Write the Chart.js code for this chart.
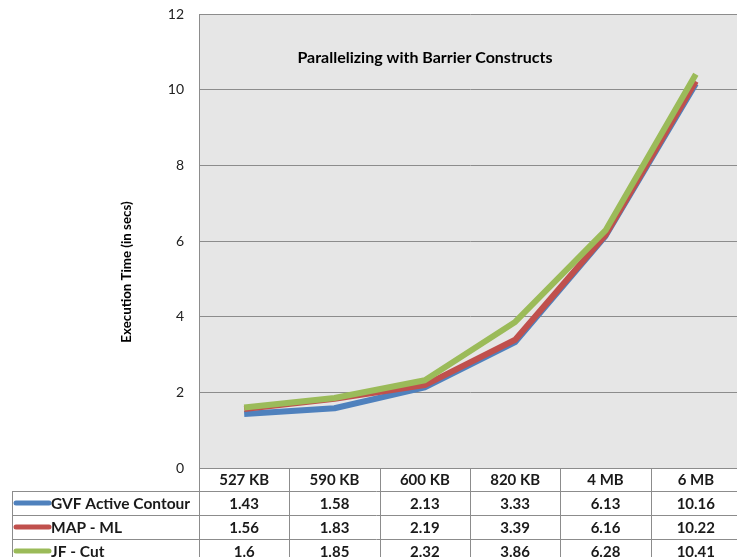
<!DOCTYPE html>
<html>
<head>
<meta charset="utf-8">
<script src="https://cdn.jsdelivr.net/npm/chart.js@4.4.1/dist/chart.umd.min.js"></script>
<style>
html,body{margin:0;padding:0;background:#fff;overflow:hidden;width:737px;height:557px;}
#wrap{position:absolute;left:0;top:0;width:741px;height:557px;}
</style>
</head>
<body>
<div id="wrap"><canvas id="c" width="741" height="557"></canvas></div>
<script>
const categories = ['527 KB', '590 KB', '600 KB', '820 KB', '4 MB', '6 MB'];
const gvfActiveContour = [1.43, 1.58, 2.13, 3.33, 6.13, 10.16];
const mapMl = [1.56, 1.83, 2.19, 3.39, 6.16, 10.22];
const jfCut = [1.6, 1.85, 2.32, 3.86, 6.28, 10.41];
const seriesNames = ['GVF Active Contour', 'MAP - ML', 'JF - Cut'];
const yTicks = [0, 2, 4, 6, 8, 10, 12];
const chartTitle = 'Parallelizing with Barrier Constructs';
const yTitle = 'Execution Time (in secs)';

const colors = ['#4f81bd', '#c0504d', '#9bbb59'];
const FONT = 'Lato, "Open Sans", sans-serif';

const tablePlugin = {
  id: 'tablePlugin',
  beforeDraw(chart) {
    const {ctx, chartArea: a} = chart;
    ctx.save();
    ctx.fillStyle = '#e6e6e6';
    ctx.fillRect(a.left, a.top, a.right - a.left, a.bottom - a.top);
    ctx.restore();
  },
  afterDraw(chart) {
    const {ctx, chartArea: a} = chart;
    const xs = chart.scales.x;
    const n = categories.length;
    const bw = (xs.right - xs.left) / n;
    const rowTop = a.bottom;
    const rowH = [23, 24, 24, 24];
    const ys = [rowTop];
    rowH.forEach(h => ys.push(ys[ys.length - 1] + h));
    const labelLeft = 12;
    ctx.save();
    // title
    ctx.fillStyle = '#000';
    ctx.font = 'bold 16px ' + FONT;
    ctx.textAlign = 'center';
    ctx.textBaseline = 'middle';
    ctx.fillText(chartTitle, 425, 58);
    // y title
    ctx.save();
    ctx.translate(127, 272);
    ctx.rotate(-Math.PI / 2);
    ctx.font = 'bold 13.3px ' + FONT;
    ctx.fillText(yTitle, 0, 0);
    ctx.restore();
    // table lines
    ctx.strokeStyle = '#8c8c8c';
    ctx.lineWidth = 1;
    ctx.beginPath();
    ctx.moveTo(xs.left, ys[0] + 0.5); ctx.lineTo(xs.right, ys[0] + 0.5);
    for (let r = 1; r < ys.length; r++) {
      ctx.moveTo(labelLeft, Math.round(ys[r]) + 0.5); ctx.lineTo(xs.right, Math.round(ys[r]) + 0.5);
    }
    ctx.moveTo(labelLeft + 0.5, ys[1]); ctx.lineTo(labelLeft + 0.5, 560);
    for (let i = 0; i <= n; i++) {
      const x = Math.round(xs.left + i * bw) + 0.5;
      ctx.moveTo(x, ys[0]); ctx.lineTo(x, 560);
    }
    ctx.stroke();
    // header
    ctx.fillStyle = '#1a1a1a';
    ctx.font = 'bold 15px ' + FONT;
    ctx.textAlign = 'center';
    categories.forEach((c, i) => {
      ctx.fillText(c, xs.left + (i + 0.5) * bw, (ys[0] + ys[1]) / 2 + 1);
    });
    const data = [gvfActiveContour, mapMl, jfCut];
    data.forEach((arr, r) => {
      const yc = (ys[r + 1] + ys[r + 2]) / 2 + 1;
      ctx.strokeStyle = colors[r];
      ctx.lineWidth = 5;
      ctx.lineCap = 'round';
      ctx.beginPath();
      ctx.moveTo(labelLeft + 4, yc - 1); ctx.lineTo(labelLeft + 37, yc - 1);
      ctx.stroke();
      ctx.fillStyle = '#1a1a1a';
      ctx.textAlign = 'left';
      ctx.font = 'bold 15.5px ' + FONT;
      ctx.fillText(seriesNames[r], labelLeft + 39, yc);
      ctx.font = 'bold 15px ' + FONT;
      ctx.textAlign = 'center';
      arr.forEach((v, i) => {
        ctx.fillText(String(v), xs.left + (i + 0.5) * bw, yc);
      });
    });
    ctx.restore();
  }
};

new Chart(document.getElementById('c'), {
  type: 'line',
  data: {
    labels: categories,
    datasets: [
      {label: seriesNames[0], data: gvfActiveContour, borderColor: colors[0], order: 2},
      {label: seriesNames[1], data: mapMl, borderColor: colors[1], order: 1},
      {label: seriesNames[2], data: jfCut, borderColor: colors[2], order: 0}
    ].map(d => Object.assign(d, {borderWidth: 6, pointRadius: 0, tension: 0, fill: false, borderJoinStyle: 'round'}))
  },
  options: {
    responsive: false,
    animation: false,
    layout: {padding: {top: 14, left: 0, right: 0, bottom: 0}},
    plugins: {legend: {display: false}, tooltip: {enabled: false}, title: {display: false}},
    scales: {
      x: {
        offset: true,
        grid: {display: false},
        border: {display: false},
        ticks: {display: false},
        afterFit: s => { s.height = 89; s.paddingLeft = 0; s.paddingRight = 0; }
      },
      y: {
        min: 0, max: 12,
        afterBuildTicks: s => { s.ticks = yTicks.map(v => ({value: v})); },
        grid: {color: '#8c8c8c', drawTicks: false, lineWidth: 1},
        border: {display: true, color: '#8c8c8c'},
        ticks: {color: '#222', font: {family: FONT, size: 14}, padding: 15},
        afterFit: s => { s.width = 199; s.paddingTop = 0; s.paddingBottom = 0; }
      }
    }
  },
  plugins: [tablePlugin]
});
</script>
</body>
</html>
